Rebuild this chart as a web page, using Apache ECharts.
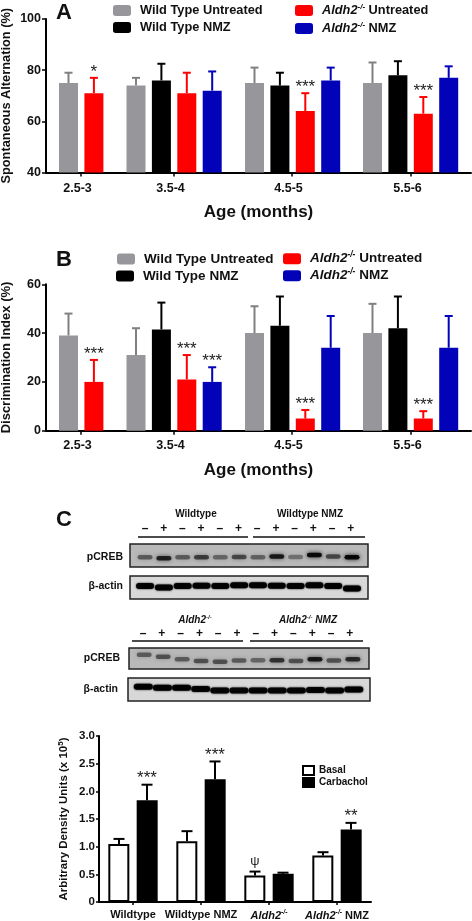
<!DOCTYPE html>
<html><head><meta charset="utf-8">
<style>html,body{margin:0;padding:0;background:#fff}#c{width:472px;height:921px}</style>
<script src="https://cdn.jsdelivr.net/npm/echarts@6/dist/echarts.min.js"></script>
</head><body><div id="c"></div>
<script>
// ---------- data ----------
const ageGroups = ['2.5-3','3.5-4','4.5-5','5.5-6'];
const seriesNames = ['Wild Type Untreated','Wild Type NMZ','Aldh2-/- Untreated','Aldh2-/- NMZ'];
const wtUntreatedA = [75,74,75,75];
const wtNmzA       = [null,76,74,78];
const koUntreatedA = [71,71,64,63];
const koNmzA       = [null,72,76,77];
const wtUntreatedATop = [79,77,81,83];
const wtNmzATop       = [null,82.5,79,83.5];
const koUntreatedATop = [77,79,71,69.5];
const koNmzATop       = [null,79.5,81,81.5];
const koUntreatedASig = ['*','','***','***'];
const wtUntreatedB = [39,31,40,40];
const wtNmzB       = [null,41.5,43,42];
const koUntreatedB = [20,21,5,5];
const koNmzB       = [null,20,34,34];
const wtUntreatedBTop = [48,42,51,52];
const wtNmzBTop       = [null,52.5,55,55];
const koUntreatedBTop = [29,31,8.5,8];
const koNmzBTop       = [null,26,47,47];
const koUntreatedBSig = ['***','***','***','***'];
const koNmzBSig       = ['','***','',''];
const densityGroups = ['Wildtype','Wildtype NMZ','Aldh2-/-','Aldh2-/- NMZ'];
const basal        = [1.05,1.10,0.48,0.84];
const carbachol    = [1.84,2.22,0.51,1.31];
const basalTop     = [1.14,1.28,0.55,0.90];
const carbacholTop = [2.12,2.54,0.53,1.43];
const basalSig     = ['','','ψ',''];
const carbacholSig = ['***','***','','**'];
const laneSigns = ['–','+','–','+','–','+','–','+','–','+','–','+'];
const blot1Pcreb = [0.45,0.75,0.45,0.60,0.40,0.55,0.42,0.80,0.35,0.90,0.55,0.92];
const blot1PcrebLevel = [0.42,0.38,0.42,0.42,0.42,0.44,0.42,0.46,0.44,0.52,0.46,0.42];
const blot1Actin = [0.95,0.95,0.95,0.95,0.95,0.95,0.95,0.95,0.95,0.95,0.95,0.98];
const blot1ActinLevel = [0.56,0.50,0.56,0.58,0.56,0.60,0.60,0.58,0.56,0.60,0.56,0.46];
const blot2Pcreb = [0.45,0.50,0.45,0.50,0.50,0.45,0.40,0.65,0.50,0.80,0.50,0.70];
const blot2PcrebLevel = [0.68,0.58,0.46,0.38,0.34,0.40,0.42,0.42,0.38,0.46,0.40,0.46];
const blot2Actin = [0.95,0.95,0.95,0.92,0.92,0.90,0.92,0.92,0.92,0.92,0.92,0.95];
const blot2ActinLevel = [0.62,0.58,0.58,0.52,0.46,0.46,0.46,0.46,0.46,0.48,0.46,0.50];

// ---------- layout ----------
const colors = ['#97979b','#000000','#ff0000','#0202b8'];
const errColors = ['#808080','#000000','#ff0000','#0202b8'];
const groupStart = [22.5,90,208.5,326.5];
const barStep = 25.4;
const tickPos = [35,128,246,365];
const FONT = '"Liberation Sans", Arial, sans-serif';
const laneX = (g,i) => {
  // first group holds only two bars (grey, red)
  if (g === 0) return groupStart[0] + (i === 0 ? 0 : barStep);
  return groupStart[g] + i*barStep;
};
const richName = size => ({
  i:{fontStyle:'italic',fontWeight:'bold',fontSize:size,fontFamily:FONT,color:'#111'},
  s:{fontStyle:'italic',fontWeight:'bold',fontSize:size*0.62,fontFamily:FONT,color:'#111',verticalAlign:'top',lineHeight:size+2},
  b:{fontWeight:'bold',fontSize:size,fontFamily:FONT,color:'#111'}
});
const koFmt = n => n.indexOf('Aldh2-/-') === 0
  ? '{i|Aldh2}{s|-/-}' + (n.length > 8 ? '{b|' + n.slice(8) + '}' : '')
  : '{b|' + n + '}';

const series = [];
function bars(name, values, idx, ax){
  const data = [];
  values.forEach((v,g)=>{ if(v!==null) data.push([laneX(g,idx),v]); });
  series.push({type:'bar',name,xAxisIndex:ax,yAxisIndex:ax,barWidth:19,barGap:'-100%',z:3,
    itemStyle:{color:colors[idx]},data,silent:true});
}
function errs(values, tops, idx, ax, sigs, starGap){
  const data = [], s = [];
  values.forEach((v,g)=>{ if(v!==null){ data.push([laneX(g,idx),v,tops[g]]); s.push(sigs?sigs[g]:''); }});
  series.push({type:'custom',name:'err'+ax+idx,xAxisIndex:ax,yAxisIndex:ax,z:2,clip:false,silent:true,
    encode:{x:0,y:[1,2]},data,
    renderItem:(p,api)=>{
      const a=api.coord([api.value(0),api.value(1)]), b=api.coord([api.value(0),api.value(2)]);
      const st={stroke:errColors[idx],lineWidth:2};
      const ch=[{type:'line',shape:{x1:a[0],y1:a[1],x2:a[0],y2:b[1]},style:st},
                {type:'line',shape:{x1:a[0]-4,y1:b[1],x2:a[0]+4,y2:b[1]},style:st}];
      if(s[p.dataIndex]) ch.push({type:'text',style:{text:s[p.dataIndex],x:a[0],y:b[1]+starGap,align:'center',verticalAlign:'bottom',
        font:'17px '+FONT,fill:'#222'}});
      return {type:'group',children:ch};
    }});
}
[[wtUntreatedA,wtUntreatedATop,null],[wtNmzA,wtNmzATop,null],[koUntreatedA,koUntreatedATop,koUntreatedASig],[koNmzA,koNmzATop,null]]
  .forEach((d,i)=>{ errs(d[0],d[1],i,0,d[2],3); bars(seriesNames[i],d[0],i,0); });
[[wtUntreatedB,wtUntreatedBTop,null],[wtNmzB,wtNmzBTop,null],[koUntreatedB,koUntreatedBTop,koUntreatedBSig],[koNmzB,koNmzBTop,koNmzBSig]]
  .forEach((d,i)=>{ errs(d[0],d[1],i,1,d[2],3); bars(seriesNames[i],d[0],i,1); });

// blots
function blot(ax,name,vals,levels,bandW,bandH,blur){
  series.push({type:'custom',name,xAxisIndex:ax,yAxisIndex:ax,silent:true,z:2,
    data:vals.map((v,i)=>[i,levels[i],v]),
    renderItem:(p,api)=>{
      const c=api.coord([api.value(0),api.value(1)]), v=api.value(2);
      const col='rgba(0,0,0,'+v+')';
      return {type:'rect',shape:{x:c[0]-bandW/2,y:c[1]-bandH/2,width:bandW,height:bandH,r:bandH/2},
        style:{fill:col,shadowBlur:blur,shadowColor:col}};
    }});
}
blot(2,'blot1 pCREB',blot1Pcreb,blot1PcrebLevel,15,4.5,4);
blot(3,'blot1 actin',blot1Actin,blot1ActinLevel,18,6,2);
blot(4,'blot2 pCREB',blot2Pcreb,blot2PcrebLevel,15,4.5,4);
blot(5,'blot2 actin',blot2Actin,blot2ActinLevel,19,6,2);

// density panel
const dAx=6;
series.push({type:'bar',name:'Basal',xAxisIndex:dAx,yAxisIndex:dAx,barWidth:21,barGap:'35%',z:3,silent:true,
  itemStyle:{color:'#fff',borderColor:'#000',borderWidth:2},data:basal});
series.push({type:'bar',name:'Carbachol',xAxisIndex:dAx,yAxisIndex:dAx,barWidth:21,barGap:'35%',z:3,silent:true,
  itemStyle:{color:'#000',borderColor:'#000',borderWidth:2},data:carbachol});
function densErr(name,means,tops,sigs,off){
  series.push({type:'custom',name,xAxisIndex:dAx,yAxisIndex:dAx,z:2,clip:false,silent:true,
    encode:{x:0,y:[1,2]},data:means.map((m,i)=>[i,m,tops[i]]),
    renderItem:(p,api)=>{
      const a=api.coord([api.value(0),api.value(1)]), b=api.coord([api.value(0),api.value(2)]);
      const x=a[0]+off, st={stroke:'#000',lineWidth:2};
      const ch=[{type:'line',shape:{x1:x,y1:a[1],x2:x,y2:b[1]},style:st},
                {type:'line',shape:{x1:x-5.5,y1:b[1],x2:x+5.5,y2:b[1]},style:st}];
      const t=sigs[p.dataIndex];
      if(t) ch.push({type:'text',style:{text:t,x,y:b[1]+(t==='ψ'?-4:2),align:'center',verticalAlign:'bottom',font:(t==='ψ'?'13px ':'17px ')+FONT,fill:'#222'}});
      return {type:'group',children:ch};
    }});
}
densErr('errB',basal,basalTop,basalSig,-14);
densErr('errC',carbachol,carbacholTop,carbacholSig,14);

// ---------- axes ----------
function panelX(gridIndex,margin){
  return {type:'value',gridIndex,min:0,max:425,splitLine:{show:false},
    name:'Age (months)',nameLocation:'middle',nameGap:31,
    nameTextStyle:{fontFamily:FONT,fontWeight:'bold',fontSize:17,color:'#111',align:'center'},
    axisLine:{show:true,lineStyle:{color:'#000',width:2}},
    axisTick:{show:true,length:4,lineStyle:{color:'#000',width:1.5},customValues:tickPos},
    axisLabel:{fontFamily:FONT,fontWeight:'bold',fontSize:12.5,color:'#111',margin,customValues:tickPos,
      padding:[0,7,0,0],formatter:v=>ageGroups[tickPos.indexOf(v)]}};
}
function panelY(gridIndex,min,max,interval,name,gap,size){
  return {type:'value',gridIndex,min,max,interval,splitLine:{show:false},
    name,nameLocation:'middle',nameGap:gap,nameRotate:90,nameMoveOverlap:false,
    nameTextStyle:{fontFamily:FONT,fontWeight:'bold',fontSize:size,color:'#111'},
    axisLine:{show:true,lineStyle:{color:'#000',width:2}},
    axisTick:{show:true,length:4,lineStyle:{color:'#000',width:1.5}},
    axisLabel:{fontFamily:FONT,fontWeight:'bold',fontSize:12.5,color:'#111',margin:5}};
}
const hiddenX=gridIndex=>({type:'value',gridIndex,min:-0.8,max:11.85,show:false});
const hiddenY=gridIndex=>({type:'value',gridIndex,min:0,max:1,show:false});
const blotGrid=(left,top,w,h,bg)=>({left,top,width:w,height:h,outerBoundsMode:'none',show:true,backgroundColor:bg,borderColor:'#222',borderWidth:1.5});

// ---------- legends ----------
function legendItem(name,left,cy,fontSize){
  return {show:true,left,top:cy-6,height:16,orient:'horizontal',selectedMode:false,padding:0,
    itemWidth:18,itemHeight:11,icon:'roundRect',data:[name],formatter:koFmt,
    textStyle:{padding:[0,0,0,4],rich:richName(fontSize),fontFamily:FONT,fontWeight:'bold',fontSize}};
}
const legends=[
  legendItem(seriesNames[0],113,10,12.8),legendItem(seriesNames[1],113,27,12.8),
  legendItem(seriesNames[2],295,9,12.8),legendItem(seriesNames[3],295,27,12.8),
  legendItem(seriesNames[0],117,258,13.5),legendItem(seriesNames[1],116,275,13.5),
  legendItem(seriesNames[2],283,257,13.5),legendItem(seriesNames[3],283,274,13.5),
  {show:true,left:302,top:765,orient:'vertical',selectedMode:false,padding:0,itemGap:1,itemWidth:11,itemHeight:9,icon:'rect',
   data:['Basal','Carbachol'],textStyle:{fontFamily:FONT,fontWeight:'bold',fontSize:10,color:'#111',padding:[0,0,0,0]}}
];

// ---------- blot annotations ----------
const txt=(text,x,y,size,align,rich,extra)=>({type:'text',x,y,silent:true,style:Object.assign({text,fill:'#111',
  font:'bold '+size+'px '+FONT,align:align||'center',verticalAlign:'middle',rich},extra||{})});
const rule=(x1,x2,y)=>({type:'line',silent:true,shape:{x1,y1:y,x2,y2:y},style:{stroke:'#111',lineWidth:1.5}});
const blot1Lanes=i=>145+i*18.7, blot2Lanes=i=>143+i*18.8;
const gfx=[
  txt('A',56,13,22,'left'),txt('B',56,260,22,'left'),txt('C',56,520,22,'left'),
  txt('Wildtype',196,514,10),txt('Wildtype NMZ',310,514,10),
  rule(138,248,537),rule(253,365,537),
  txt('pCREB',123,557,10.5,'right'),txt('β-actin',123,586,10.5,'right'),
  txt(koFmt('Aldh2-/-'),195,620,10,'center',richName(10)),
  txt(koFmt('Aldh2-/-')+'{i| NMZ}',308,620,10,'center',richName(10)),
  rule(132,243,641),rule(250,363,641),
  txt('pCREB',120,658,10.5,'right'),txt('β-actin',118,689,10.5,'right')
];
laneSigns.forEach((s,i)=>{
  gfx.push(txt(s,blot1Lanes(i),529,12));
  gfx.push(txt(s,blot2Lanes(i),634,12));
});

// ---------- chart ----------
const chart=echarts.init(document.getElementById('c'),null,{renderer:'canvas'});
chart.setOption({
  animation:false,backgroundColor:'#fff',
  legend:legends,
  graphic:gfx,
  grid:[
    {left:46,top:19,width:425,height:153.5,outerBoundsMode:'none'},
    {left:46,top:284.3,width:425,height:146.4,outerBoundsMode:'none'},
    blotGrid(130,544,238,23,'#b9b9b9'),
    blotGrid(130,576,238,23,'#d8d8d8'),
    blotGrid(129,648,240,21,'#b9b9b9'),
    blotGrid(128,678,242,23,'#d8d8d8'),
    {left:99,top:736,width:272,height:166,outerBoundsMode:'none'}
  ],
  xAxis:[panelX(0,10),panelX(1,8),hiddenX(2),hiddenX(3),hiddenX(4),hiddenX(5),
    {type:'category',gridIndex:6,data:densityGroups,splitLine:{show:false},
     axisLine:{show:true,lineStyle:{color:'#000',width:2}},
     axisTick:{show:true,length:3,alignWithLabel:true,lineStyle:{color:'#000',width:1.5}},
     axisLabel:{interval:0,margin:7,formatter:v=>koFmt(v),rich:richName(11)}}],
  yAxis:[panelY(0,40,100,20,'Spontaneous Alternation (%)',33,12.8),
    panelY(1,0,60,20,'Discrimination Index (%)',33,13),
    hiddenY(2),hiddenY(3),hiddenY(4),hiddenY(5),
    {type:'value',gridIndex:6,min:0,max:3,interval:0.5,splitLine:{show:false},
     name:'{b|Arbitrary Density Units (x 10}{s|5}{b|)}',nameLocation:'middle',nameGap:29,nameRotate:90,nameMoveOverlap:false,
     nameTextStyle:{rich:Object.assign(richName(11.5),{s:{fontWeight:'bold',fontSize:8,fontFamily:FONT,color:'#111',verticalAlign:'top',lineHeight:13}})},
     axisLine:{show:true,lineStyle:{color:'#000',width:2}},
     axisTick:{show:true,length:3,lineStyle:{color:'#000',width:1.5}},
     axisLabel:{fontFamily:FONT,fontWeight:'bold',fontSize:11.5,color:'#111',margin:4,
       formatter:v=>v===0?'0':v.toFixed(1)}}],
  series
});
</script></body></html>
